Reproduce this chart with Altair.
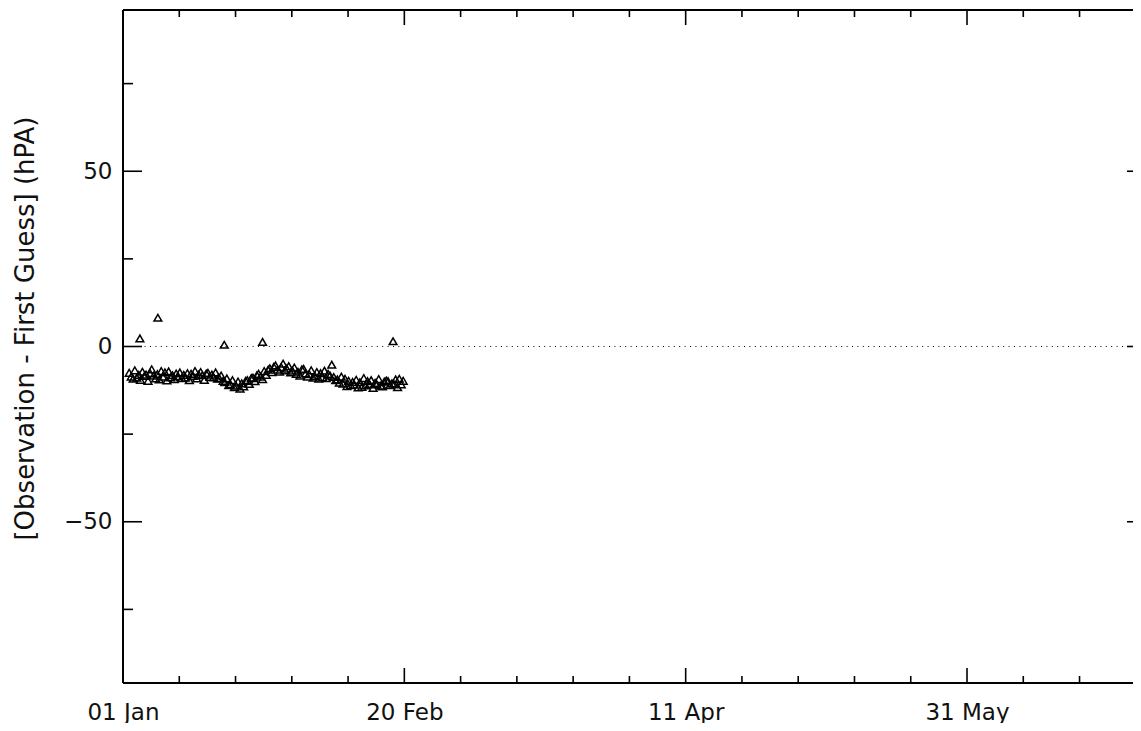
import altair as alt
import pandas as pd

# ---- data ----
obs_day = [
    1.1, 1.45, 1.8, 2.1, 2.45, 2.8, 3.1, 3.45, 3.8, 4.1, 4.45, 4.8,
    5.1, 5.45, 5.8, 6.1, 6.45, 6.8, 7.1, 7.45, 7.8, 8.1, 8.45, 8.8,
    9.1, 9.45, 9.8, 10.1, 10.45, 10.8, 11.1, 11.45, 11.8, 12.1, 12.45, 12.8,
    13.1, 13.45, 13.8, 14.1, 14.45, 14.8, 15.1, 15.45, 15.8, 16.1, 16.45, 16.8,
    17.1, 17.45, 17.8, 18.1, 18.45, 18.8, 19.1, 19.45, 19.8, 20.1, 20.45, 20.8,
    21.1, 21.45, 21.8, 22.1, 22.45, 22.8, 23.1, 23.45, 23.8, 24.1, 24.45, 24.8,
    25.1, 25.45, 25.8, 26.1, 26.45, 26.8, 27.1, 27.45, 27.8, 28.1, 28.45, 28.8,
    29.1, 29.45, 29.8, 30.1, 30.45, 30.8, 31.1, 31.45, 31.8, 32.1, 32.45, 32.8,
    33.1, 33.45, 33.8, 34.1, 34.45, 34.8, 35.1, 35.45, 35.8, 36.1, 36.45, 36.8,
    37.1, 37.45, 37.8, 38.1, 38.45, 38.8, 39.1, 39.45, 39.8, 40.1, 40.45, 40.8,
    41.1, 41.45, 41.8, 42.1, 42.45, 42.8, 43.1, 43.45, 43.8, 44.1, 44.45, 44.8,
    45.1, 45.45, 45.8, 46.1, 46.45, 46.8, 47.1, 47.45, 47.8, 48.1, 48.45, 48.8,
    49.1, 49.45, 49.8,
]
obs_val = [
    -7.5, -8.6, -9.2, -6.8, -8.9, -8.1, -9.5, -7.2, -8.4, -8.0, -9.8, -7.6,
    -6.5, -8.3, -9.1, -7.9, -9.4, -7.0, -8.6, -7.4, -9.7, -7.1, -8.8, -8.2,
    -9.3, -7.7, -8.5, -7.4, -9.0, -8.1, -8.9, -7.6, -9.6, -7.8, -8.4, -7.0,
    -9.1, -8.0, -7.3, -8.2, -9.5, -7.7, -7.5, -8.7, -8.0, -8.8, -7.4, -9.2,
    -9.0, -8.3, -9.8, -10.2, -9.1, -11.0, -10.8, -9.6, -11.6, -11.2, -10.0, -12.0,
    -10.5, -11.4, -9.8, -9.6, -10.7, -9.0, -8.9, -9.9, -8.2, -7.8, -8.6, -9.3,
    -7.0, -8.1, -6.6, -6.2, -7.3, -5.8, -5.4, -6.6, -7.2, -5.9, -4.9, -6.8,
    -6.3, -5.6, -7.4, -6.9, -6.0, -7.8, -7.2, -8.3, -6.5, -6.4, -7.7, -8.6,
    -7.9, -6.8, -8.9, -8.4, -7.3, -9.2, -7.6, -8.8, -6.9, -9.0, -7.8, -8.3,
    -5.2, -8.7, -9.6, -9.4, -10.3, -8.6, -10.6, -9.2, -11.3, -9.8, -11.0, -10.1,
    -10.9, -9.5, -11.7, -10.2, -11.5, -9.0, -11.1, -9.9, -10.7, -9.6, -11.8, -10.4,
    -10.8, -9.3, -11.2, -11.4, -10.0, -9.7, -9.9, -11.0, -10.5, -10.6, -9.4, -11.6,
    -9.2, -10.8, -9.8,
]
out_day = [3.0, 6.2, 18.0, 24.8, 48.0]
out_val = [2.3, 8.2, 0.5, 1.3, 1.5]

x_major = [0, 50, 100, 150]
x_labels = ["01 Jan", "20 Feb", "11 Apr", "31 May"]
x_minor = [10, 20, 30, 40, 60, 70, 80, 90, 110, 120, 130, 140, 160, 170]
y_major = [-50, 0, 50]
y_minor = [-75, -25, 25, 75]

# visible part of the time axis (the frame runs on past the window edge)
X_MAX = 179.5
Y_MIN, Y_MAX = -96, 96
W, H = 1010, 673

# ---- tables ----
pts = pd.DataFrame({"day": obs_day + out_day, "val": obs_val + out_val})
xmaj = pd.DataFrame({"day": x_major})
xmin = pd.DataFrame({"day": x_minor})
ymaj = pd.DataFrame({"val": y_major})
ymin = pd.DataFrame({"val": y_minor})
zero = pd.DataFrame({"val": [0]})

xs = alt.Scale(domain=[0, X_MAX], nice=False, zero=False)
ys = alt.Scale(domain=[Y_MIN, Y_MAX], nice=False, zero=False)

label_expr = " : ".join(
    f"datum.value == {d} ? '{l}'" for d, l in zip(x_major, x_labels)
) + " : ''"

FONT = "DejaVu Sans"

x_axis = alt.Axis(
    values=x_major, labelExpr=label_expr, ticks=False, tickSize=0, domain=False,
    grid=False, labelFont=FONT, labelFontSize=23, labelColor="#111111",
    labelPadding=18, title=None, labelFlush=False)
y_axis = alt.Axis(
    values=y_major, ticks=False, tickSize=0, domain=False, grid=False,
    labelFont=FONT, labelFontSize=23, labelColor="#111111", labelPadding=11,
    title="[Observation - First Guess] (hPA)", titleFont=FONT, titleFontSize=26,
    titleFontWeight="normal", titleColor="#111111", titleAngle=270,
    titleX=-90, titleY=318, titleAlign="center", titleBaseline="alphabetic")

X = lambda: alt.X("day:Q", scale=xs, axis=x_axis)
Y = lambda: alt.Y("val:Q", scale=ys, axis=y_axis)

points = alt.Chart(pts).mark_point(
    shape="triangle-up", filled=False, stroke="black", strokeWidth=1.5, size=60, opacity=1
).encode(x=X(), y=Y())

zero_line = alt.Chart(zero).mark_rule(color="black", strokeWidth=1, strokeDash=[1, 4.4]).encode(
    y=Y(), x=alt.value(0), x2=alt.value(W)
)

LW = 1.6

def xtick(df, y0, y1):
    return alt.Chart(df).mark_rule(color="black", strokeWidth=LW).encode(
        x=X(), y=alt.value(y0), y2=alt.value(y1))

def ytick(df, x0, x1):
    return alt.Chart(df).mark_rule(color="black", strokeWidth=LW).encode(
        y=Y(), x=alt.value(x0), x2=alt.value(x1))

frame = [
    alt.Chart(zero).mark_rule(color="black", strokeWidth=2).encode(
        x=alt.value(0), y=alt.value(0), y2=alt.value(H)),
    alt.Chart(zero).mark_rule(color="black", strokeWidth=2).encode(
        x=alt.value(0), x2=alt.value(W), y=alt.value(0)),
    alt.Chart(zero).mark_rule(color="black", strokeWidth=2).encode(
        x=alt.value(0), x2=alt.value(W), y=alt.value(H)),
]

ticks = [
    xtick(xmaj, H, H - 15), xtick(xmin, H, H - 7),
    xtick(xmaj, 0, 15), xtick(xmin, 0, 7),
    ytick(ymaj, 0, 19), ytick(ymin, 0, 10),
    ytick(ymaj, W - 6, W),
]

chart = alt.layer(points, zero_line, *frame, *ticks).properties(
    width=W, height=H,
    autosize=alt.AutoSizeParams(type="none"),
    padding={"left": 115, "top": 2, "right": 0, "bottom": 40},
    background="white",
).configure_view(stroke=None)

chart.save("out.html", embed_options={"renderer": "svg", "actions": False})
